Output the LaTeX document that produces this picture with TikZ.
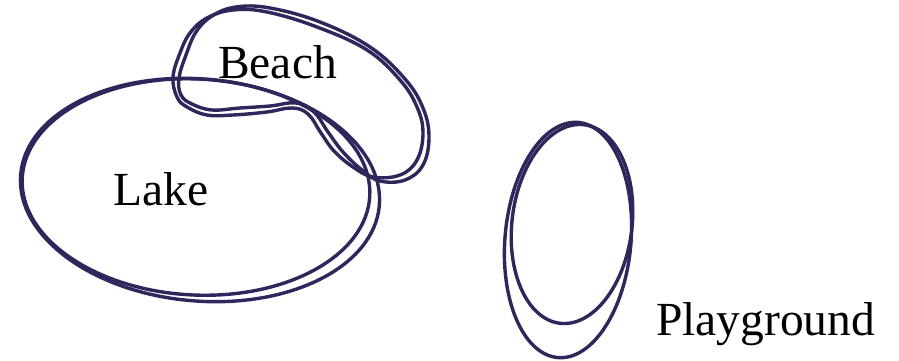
\documentclass[tikz,border=0pt]{standalone}
\usepackage{fontspec}
\setmainfont{Liberation Serif}
\definecolor{ink}{RGB}{48,38,92}
\begin{document}
\begin{tikzpicture}[x=1pt,y=-1pt,
  pen/.style={draw=ink,line width=3.4pt,line join=round,line cap=round},
  lbl/.style={font=\fontsize{47.5}{52}\selectfont,anchor=base west,inner sep=0pt,text=black}]
\useasboundingbox[fill=white] (0,0) rectangle (899,361);
% Lake
\draw[pen,rotate around={-3:(196,187)}] (196,187) ellipse [x radius=174, y radius=108];
\draw[pen,rotate around={-5:(200,190)}] (200,190) ellipse [x radius=180, y radius=111];
% Beach
\draw[pen] plot[smooth cycle,tension=0.65] coordinates {(177,97) (187,107) (207,115) (233,115) (267,112) (292,108) (308,114) (321,133) (334,151) (353,167) (373,177) (400,175) (417,160) (423,133) (417,107) (400,80) (367,50) (317,27) (267,12) (233,10) (207,18) (190,33) (180,53) (173,77)};
\draw[pen] plot[smooth cycle,tension=0.65] coordinates {(181,95) (192,104) (212,110) (240,108) (270,106) (296,103) (314,112) (328,132) (343,152) (362,170) (380,181) (405,180) (423,165) (429,137) (423,108) (405,79) (370,47) (320,22) (270,8) (236,7) (212,16) (196,32) (186,55) (179,78)};
% Playground
\draw[pen,rotate around={-7:(572,224)}] (572,224) ellipse [x radius=60, y radius=100];
\draw[pen,rotate around={-5:(568,240)}] (568,240) ellipse [x radius=63, y radius=118];
% Labels
\node[lbl] (lake) at (113,205) {Lake};
\node[lbl] (beach) at (218,78) {Beach};
\node[lbl] (play) at (656,335) {Playground};
\end{tikzpicture}
\end{document}
